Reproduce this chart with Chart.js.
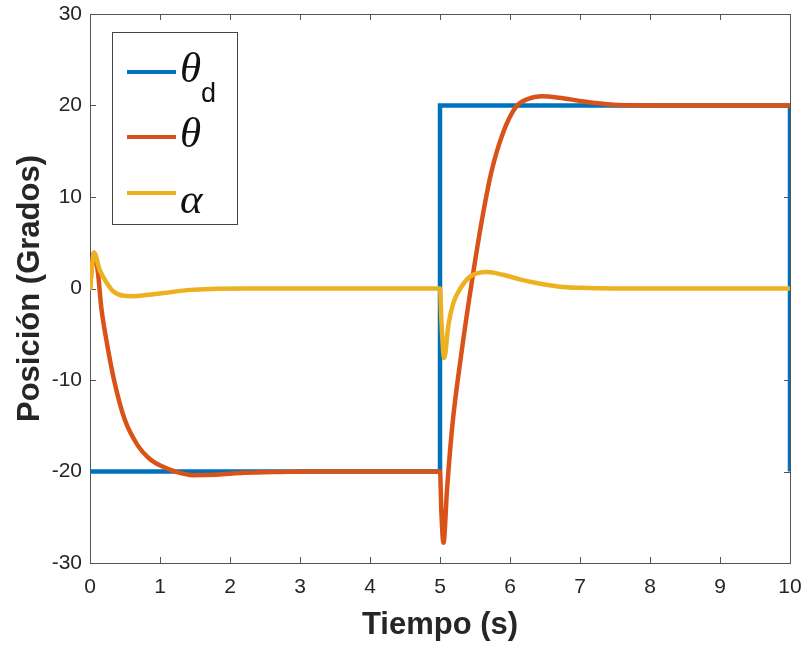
<!DOCTYPE html>
<html>
<head>
<meta charset="utf-8">
<script src="https://cdn.jsdelivr.net/npm/chart.js@4.4.1/dist/chart.umd.min.js"></script>
<style>
  html, body { margin: 0; padding: 0; background: #fff; }
  #wrap { width: 806px; height: 648px; }
</style>
</head>
<body>
<div id="wrap"><canvas id="posChart" width="806" height="648"></canvas></div>
<script>
// reference position (step from -20 to 20 at t = 5 s)
const refTime = [0, 5, 5, 10, 10];
const refPos = [-20, -20, 20, 20, -20];

// arm angle theta
const thetaTime = [0, 0.03, 0.057, 0.114, 0.16, 0.233, 0.343, 0.495, 0.686, 0.85, 1.02, 1.257, 1.47, 1.8, 2.2, 2.7, 3.2, 5.0,
  5.02, 5.05, 5.1, 5.18, 5.30, 5.44, 5.59, 5.73, 5.9, 6.09, 6.25, 6.45, 6.7, 7.0, 7.19, 7.43, 8.0, 10];
const thetaPos = [0, 2.6, 3.9, 1.7, -2.0, -5.6, -10, -14.3, -17.2, -18.6, -19.4, -20.1, -20.4, -20.35, -20.15, -20.05, -20, -20,
  -24.5, -27.8, -22, -14.7, -7.4, 0, 7.1, 12.6, 17.0, 19.9, 20.7, 21.0, 20.85, 20.5, 20.3, 20.1, 20.0, 20];

// pendulum angle alpha
const alphaTime = [0, 0.03, 0.057, 0.14, 0.24, 0.33, 0.48, 0.62, 0.8, 1.05, 1.43, 1.8, 2.2, 5.0,
  5.02, 5.06, 5.12, 5.19, 5.29, 5.43, 5.67, 5.9, 6.14, 6.38, 6.71, 7.0, 7.5, 10];
const alphaPos = [0, 2.5, 3.9, 2.0, 0.6, -0.3, -0.8, -0.85, -0.72, -0.5, -0.15, -0.04, 0, 0,
  -3.5, -7.6, -4.0, -1.6, 0, 1.3, 1.8, 1.5, 1.0, 0.6, 0.2, 0.07, 0, 0];

const xTicks = [0, 1, 2, 3, 4, 5, 6, 7, 8, 9, 10];
const yTicks = [-30, -20, -10, 0, 10, 20, 30];

const colors = ['#0072BD', '#D95319', '#EDB120'];

function toPoints(xs, ys) {
  return xs.map((x, i) => ({ x: x, y: ys[i] }));
}

const axisColor = '#262626';
const sansFont = '"Liberation Sans", Arial, sans-serif';

// box around the plot with ticks pointing inwards
const boxTicks = {
  id: 'boxTicks',
  beforeDatasetsDraw(chart) {
    const { ctx, chartArea: a, scales } = chart;
    const len = 6;
    ctx.save();
    ctx.strokeStyle = '#555';
    ctx.lineWidth = 1;
    ctx.strokeRect(a.left + 0.5, a.top + 0.5, a.right - a.left, a.bottom - a.top);
    ctx.beginPath();
    xTicks.forEach(v => {
      const px = Math.round(scales.x.getPixelForValue(v)) + 0.5;
      ctx.moveTo(px, a.bottom); ctx.lineTo(px, a.bottom - len);
      ctx.moveTo(px, a.top); ctx.lineTo(px, a.top + len);
    });
    yTicks.forEach(v => {
      const py = Math.round(scales.y.getPixelForValue(v)) + 0.5;
      ctx.moveTo(a.left, py); ctx.lineTo(a.left + len, py);
      ctx.moveTo(a.right, py); ctx.lineTo(a.right - len, py);
    });
    ctx.stroke();
    ctx.restore();
  }
};

// legend with the math symbols
const symbolLegend = {
  id: 'symbolLegend',
  afterDraw(chart) {
    const { ctx, chartArea: a } = chart;
    const bx = a.left + 22, by = a.top + 18, bw = 125, bh = 192;
    ctx.save();
    ctx.fillStyle = '#fff';
    ctx.fillRect(bx, by, bw, bh);
    ctx.strokeStyle = '#444';
    ctx.lineWidth = 1;
    ctx.strokeRect(bx + 0.5, by + 0.5, bw, bh);

    const rows = [
      { y: by + 40, sym: 'θ', sub: 'd' },
      { y: by + 105, sym: 'θ', sub: '' },
      { y: by + 161, sym: 'α', sub: '' }
    ];
    rows.forEach((r, i) => {
      ctx.strokeStyle = colors[i];
      ctx.lineWidth = 4;
      ctx.beginPath();
      ctx.moveTo(bx + 15, r.y);
      ctx.lineTo(bx + 64, r.y);
      ctx.stroke();

      ctx.fillStyle = '#111';
      ctx.textAlign = 'left';
      ctx.textBaseline = 'alphabetic';
      ctx.font = 'italic 43px "Liberation Serif", "Times New Roman", serif';
      ctx.fillText(r.sym, bx + 68, r.y + (r.sym === 'α' ? 20 : 10));
      if (r.sub) {
        const w = ctx.measureText(r.sym).width;
        ctx.font = '27px ' + sansFont;
        ctx.fillText(r.sub, bx + 68 + w, r.y + 30);
      }
    });
    ctx.restore();
  }
};

const ctx = document.getElementById('posChart').getContext('2d');
new Chart(ctx, {
  type: 'line',
  data: {
    datasets: [
      {
        label: 'θd',
        data: toPoints(refTime, refPos),
        borderColor: colors[0],
        borderWidth: 4.5,
        tension: 0,
        order: 3
      },
      {
        label: 'θ',
        data: toPoints(thetaTime, thetaPos),
        borderColor: colors[1],
        borderWidth: 4.5,
        cubicInterpolationMode: 'monotone',
        borderJoinStyle: 'round',
        borderCapStyle: 'round',
        order: 2
      },
      {
        label: 'α',
        data: toPoints(alphaTime, alphaPos),
        borderColor: colors[2],
        borderWidth: 4.5,
        cubicInterpolationMode: 'monotone',
        borderJoinStyle: 'round',
        borderCapStyle: 'round',
        order: 1
      }
    ]
  },
  options: {
    responsive: false,
    animation: false,
    elements: { point: { radius: 0 } },
    layout: { padding: { top: 14, right: 16, left: 0, bottom: 0 } },
    plugins: {
      legend: { display: false },
      tooltip: { enabled: false }
    },
    scales: {
      x: {
        type: 'linear',
        min: 0,
        max: 10,
        afterFit(scale) {
          scale.height = 85;
          scale.paddingLeft = 0;
          scale.paddingRight = 0;
        },
        afterBuildTicks(scale) { scale.ticks = xTicks.map(v => ({ value: v })); },
        grid: { display: false, drawTicks: false },
        border: { display: false },
        ticks: {
          padding: 12,
          color: axisColor,
          font: { family: sansFont, size: 21 }
        },
        title: {
          display: true,
          text: 'Tiempo (s)',
          color: axisColor,
          padding: { top: 0, bottom: 4 },
          font: { family: sansFont, size: 31, weight: 'bold' }
        }
      },
      y: {
        min: -30,
        max: 30,
        afterFit(scale) {
          scale.width = 90;
          scale.paddingTop = 0;
          scale.paddingBottom = 0;
        },
        afterBuildTicks(scale) { scale.ticks = yTicks.map(v => ({ value: v })); },
        grid: { display: false, drawTicks: false },
        border: { display: false },
        ticks: {
          padding: 8,
          color: axisColor,
          font: { family: sansFont, size: 21 }
        },
        title: {
          display: true,
          text: 'Posición (Grados)',
          color: axisColor,
          padding: { top: 12, bottom: 0 },
          font: { family: sansFont, size: 31, weight: 'bold' }
        }
      }
    }
  },
  plugins: [boxTicks, symbolLegend]
});
</script>
</body>
</html>
